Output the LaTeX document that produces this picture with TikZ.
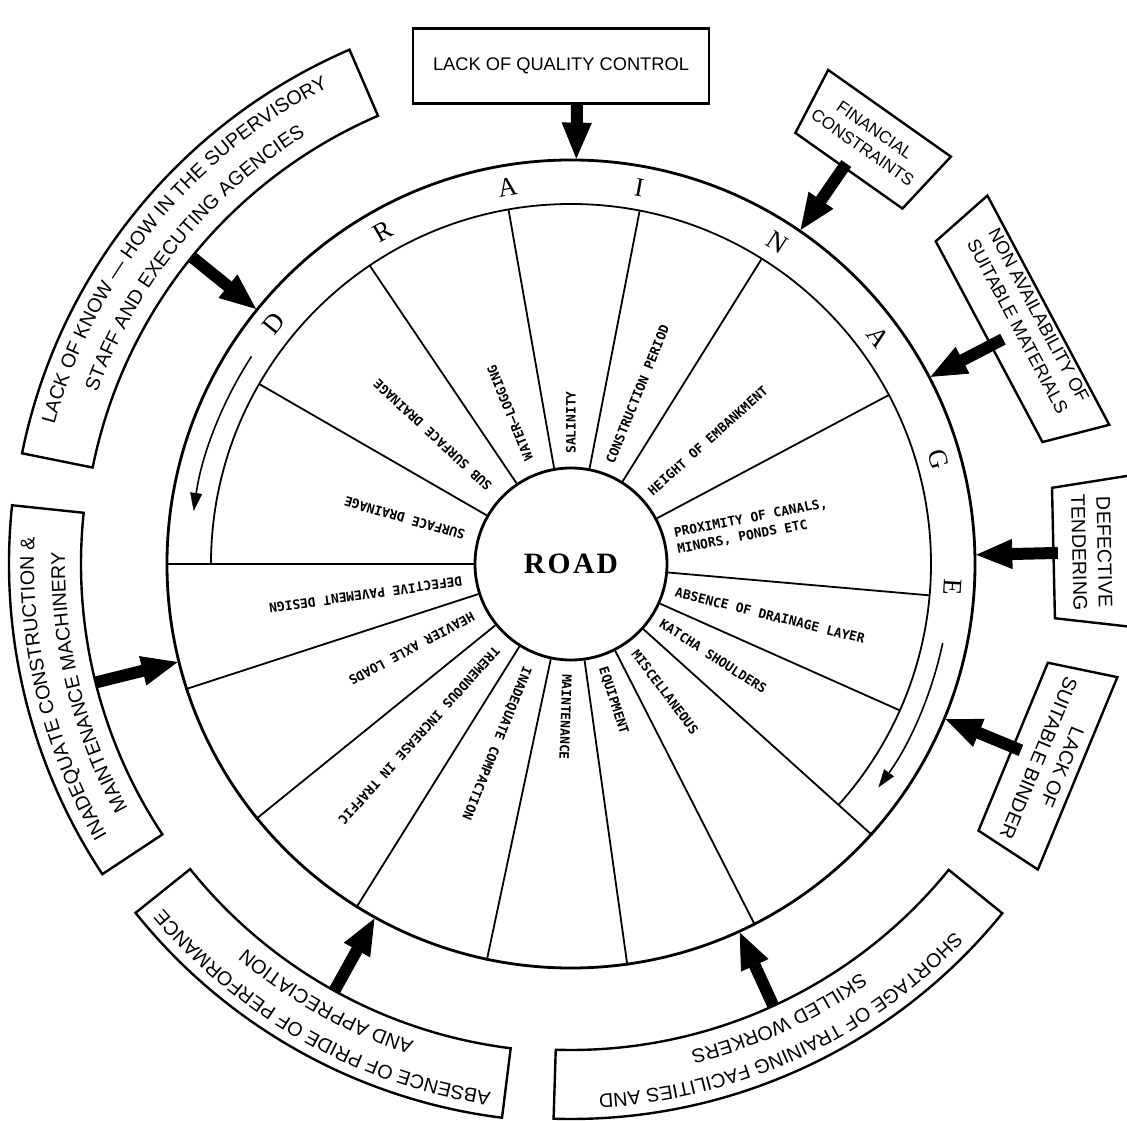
\documentclass[tikz,border=0pt]{standalone}
\usepackage{fontspec}
\setmainfont{Liberation Serif}
\setsansfont{Liberation Sans}
\setmonofont{DejaVu Sans Mono}
\usetikzlibrary{arrows.meta}
\usetikzlibrary{decorations.text}
\newcommand{\bandfont}{\sffamily\fontsize{14}{16}\selectfont}
\tikzset{
	rim/.style={line width=0.7mm},
	spoke/.style={line width=0.45mm},
	factorbox/.style={draw, line width=0.6mm},
	factor/.style={
		font=\sffamily\fontsize{14}{18}\selectfont,
		align=center,
		inner sep=0pt},
	cause/.style={
		font=\ttfamily\bfseries\fontsize{9.2}{12}\selectfont,
		anchor=west,
		align=left,
		inner sep=0pt},
	letter/.style={font=\fontsize{19}{19}\selectfont, inner sep=0pt},
	push/.style={line width=3mm, -{Triangle[length=9mm, width=7.5mm, line width=0.2mm]}},
	flow/.style={line width=0.4mm, -{Triangle[length=4.5mm, width=3mm, line width=0.1mm]}},
	bandtext/.style={decorate, decoration={text along path, text align=center, text={|\bandfont|#1}}},
}

\begin{document}
\begin{tikzpicture}[x=0.25mm, y=0.25mm]
	\useasboundingbox (-571,-556) rectangle (556,564);

	% wheel, inner edge of the ring and the hub
	\node[circle, draw, rim, minimum size=202mm, inner sep=0pt] (wheel) at (0,0) {};
	\node[circle, minimum size=180mm, inner sep=0pt, outer sep=0pt] (ring) at (0,0) {};
	\node[circle, draw, rim, minimum size=48mm, inner sep=0pt,
		font=\bfseries\fontsize{21}{24}\selectfont\addfontfeature{LetterSpace=8}] (road) at (0,0) {ROAD};
	\draw[spoke] (ring.180) arc[start angle=180, end angle=-42, radius=360];

	% spokes, the lower ones run out to the rim
	\draw[spoke] (road.180) -- (wheel.180);
	\draw[spoke] (road.198) -- (wheel.198);
	\draw[spoke] (road.219) -- (wheel.219);
	\draw[spoke] (road.238) -- (wheel.238);
	\draw[spoke] (road.258) -- (wheel.258);
	\draw[spoke] (road.278) -- (wheel.278);
	\draw[spoke] (road.297) -- (wheel.297);
	\draw[spoke] (road.318) -- (wheel.318);
	\draw[spoke] (road.336) -- (ring.336);
	\draw[spoke] (road.355) -- (ring.355);
	\draw[spoke] (road.28) -- (ring.28);
	\draw[spoke] (road.58) -- (ring.58);
	\draw[spoke] (road.79) -- (ring.79);
	\draw[spoke] (road.100) -- (ring.100);
	\draw[spoke] (road.124) -- (ring.124);
	\draw[spoke] (road.150) -- (ring.150);

	% D R A I N A G E
	\node[letter, rotate=51] (lD) at (141:382) {D};
	\node[letter, rotate=29.5] (lR) at (119.5:382) {R};
	\node[letter, rotate=9.6] (lA) at (99.6:382) {A};
	\node[letter, rotate=-10.3] (lI) at (79.7:382) {I};
	\node[letter, rotate=-32.7] (lN) at (57.3:382) {N};
	\node[letter, rotate=-53.6] (lAA) at (36.4:382) {A};
	\node[letter, rotate=-74.1] (lG) at (15.9:382) {G};
	\node[letter, rotate=-93.5] (lE) at (-3.5:382) {E};

	\draw[flow] (147:381) arc[start angle=147, end angle=172, radius=381];
	\draw[flow] (-12:380) arc[start angle=-12, end angle=-36, radius=380];

	% causes in the wedges
	\node[cause, rotate=90] (salinity) at (90:110) {SALINITY};
	\node[cause, rotate=68] (period) at (69:108) {CONSTRUCTION PERIOD};
	\node[cause, rotate=42] (embankment) at (42:106) {HEIGHT OF EMBANKMENT};
	\node[cause, rotate=11] (canals) at (12:107) {PROXIMITY OF CANALS,\\MINORS, PONDS ETC};
	\node[cause, rotate=-14] (layer) at (-15:108) {ABSENCE OF DRAINAGE LAYER};
	\node[cause, rotate=-33] (shoulders) at (-33:107) {KATCHA SHOULDERS};
	\node[cause, rotate=-53] (misc) at (-54:108) {MISCELLANEOUS};
	\node[cause, rotate=-72] (equipment) at (-73:108) {EQUIPMENT};
	\node[cause, rotate=-92] (maintenance) at (-92:110) {MAINTENANCE};
	\node[cause, rotate=248] (compaction) at (247:112) {INADEQUATE COMPACTION};
	\node[cause, rotate=228] (traffic) at (229:112) {TREMENDOUS INCREASE IN TRAFFIC};
	\node[cause, rotate=208] (axle) at (208:110) {HEAVIER AXLE LOADS};
	\node[cause, rotate=188] (pavement) at (189:110) {DEFECTIVE PAVEMENT DESIGN};
	\node[cause, rotate=164] (surface) at (165:110) {SURFACE DRAINAGE};
	\node[cause, rotate=137] (subsurface) at (137:111) {SUB SURFACE DRAINAGE};
	\node[cause, rotate=112] (waterlog) at (112:112) {WATER—LOGGING};

	% factors round the wheel
	\node[factor, factorbox, minimum width=74mm, minimum height=18.75mm,
		font=\sffamily\fontsize{13}{16}\selectfont] (quality) at (-10,498) {LACK OF QUALITY CONTROL};
	\coordinate (qualityFoot) at ([xshift=4mm]quality.south);
	\draw[push] (qualityFoot) -- (wheel);

	\draw[factorbox] (47:486) -- (62.5:486) -- (62.5:557) -- (47:557) -- cycle;
	\node[factor, rotate=-35, font=\sffamily\fontsize{12}{15}\selectfont] (finance) at (55:519) {FINANCIAL\\CONSTRAINTS};
	\coordinate (financeFoot) at (55.5:486);
	\draw[push] (financeFoot) -- (wheel);

	\draw[factorbox] (14.5:487) -- (41.5:487) -- (41.5:556) -- (14.5:556) -- cycle;
	\node[factor, rotate=-62, font=\sffamily\fontsize{13}{17}\selectfont] (materials) at (28:518) {NON AVAILABILITY OF\\SUITABLE MATERIALS};
	\coordinate (materialsFoot) at (27.5:487);
	\draw[push] (materialsFoot) -- (wheel);

	\draw[factorbox] (-6.4:487) -- (9:487) -- (9:566) -- (-6.4:566) -- cycle;
	\node[factor, rotate=-88.7] (tender) at (1.3:521) {DEFECTIVE\\TENDERING};
	\coordinate (tenderFoot) at (1.3:487);
	\draw[push] (tenderFoot) -- (wheel);

	\draw[factorbox] (-33.2:487) -- (-11.7:487) -- (-11.7:558) -- (-33.2:558) -- cycle;
	\node[factor, rotate=-112.5] (binder) at (-22.5:519) {LACK OF\\SUITABLE BINDER};
	\coordinate (binderFoot) at (-22.5:487);
	\draw[push] (binderFoot) -- (wheel);

	\draw[factorbox] (113.3:488) arc[start angle=113.3, end angle=168.6, radius=488]
		-- (168.6:560) arc[start angle=168.6, end angle=113.3, radius=560] -- cycle;
	\path[bandtext={LACK OF KNOW — HOW IN THE SUPERVISORY}] (168.6:535) arc[start angle=168.6, end angle=113.3, radius=535];
	\path[bandtext={STAFF AND EXECUTING AGENCIES}] (168.6:504) arc[start angle=168.6, end angle=113.3, radius=504];
	\coordinate (knowhowFoot) at (141:488);
	\draw[push] (knowhowFoot) -- (wheel);

	\draw[factorbox] (174:490) arc[start angle=174, end angle=213.5, radius=490]
		-- (213.5:562) arc[start angle=213.5, end angle=174, radius=562] -- cycle;
	\path[bandtext={INADEQUATE CONSTRUCTION {\&}}] (213.5:537) arc[start angle=213.5, end angle=174, radius=537];
	\path[bandtext={MAINTENANCE MACHINERY}] (213.5:506) arc[start angle=213.5, end angle=174, radius=506];
	\coordinate (machineryFoot) at (194:490);
	\draw[push] (machineryFoot) -- (wheel);

	\draw[factorbox] (218.7:488) arc[start angle=218.7, end angle=262.9, radius=488]
		-- (262.9:558) arc[start angle=262.9, end angle=218.7, radius=558] -- cycle;
	\path[bandtext={ABSENCE OF PRIDE OF PERFORMANCE}] (262.9:534) arc[start angle=262.9, end angle=218.7, radius=534];
	\path[bandtext={AND APPRECIATION}] (262.9:503) arc[start angle=262.9, end angle=218.7, radius=503];
	\coordinate (prideFoot) at (241:488);
	\draw[push] (prideFoot) -- (wheel);

	\draw[factorbox] (268.2:486) arc[start angle=268.2, end angle=321, radius=486]
		-- (321:555) arc[start angle=321, end angle=268.2, radius=555] -- cycle;
	\path[bandtext={SHORTAGE OF TRAINING FACILITIES AND}] (321:531) arc[start angle=321, end angle=268.2, radius=531];
	\path[bandtext={SKILLED WORKERS}] (321:501) arc[start angle=321, end angle=268.2, radius=501];
	\coordinate (trainingFoot) at (294.6:486);
	\draw[push] (trainingFoot) -- (wheel);
\end{tikzpicture}
\end{document}
